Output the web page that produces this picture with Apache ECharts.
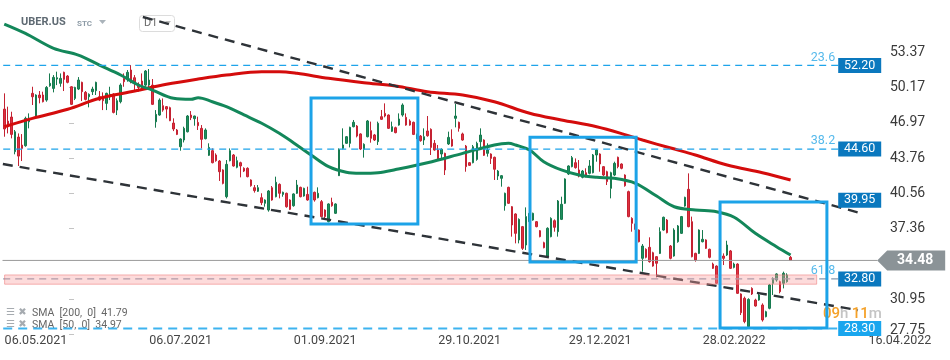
<!DOCTYPE html>
<html>
<head>
<meta charset="utf-8">
<script src="https://cdn.jsdelivr.net/npm/echarts@6.0.0/dist/echarts.min.js"></script>
<style>html,body{margin:0;padding:0;background:#fff;}#chart{width:950px;height:360px;}</style>
</head>
<body>
<div id="chart"></div>
<script>
// ---------- data ----------
const SLOTS = 268; // daily slots on the time axis (candles + empty future space)
// [open, close, low, high]
const ohlc = [
[48.23,46.42,45.72,49.66],[47.14,46.63,46.02,48.45],[47.51,45.93,45.57,47.99],[44.36,46.17,44.12,46.33],
[45.69,43.96,43.06,46.02],[44.96,44.66,43.51,45.96],[44.90,47.39,44.81,47.54],[47.08,47.39,46.48,47.84],
[49.66,49.35,48.60,50.26],[47.54,49.51,47.39,49.57],[49.51,49.26,48.75,49.87],[49.51,48.90,48.84,49.81],
[49.05,50.20,48.90,50.32],[50.35,50.57,50.26,51.47],[50.11,51.11,49.75,51.32],[50.96,51.08,50.41,51.63],
[50.57,51.02,50.26,51.47],[51.57,50.93,49.87,51.63],[51.23,50.66,50.57,51.32],[50.26,48.66,48.60,50.32],
[49.20,50.20,49.05,50.26],[50.05,50.87,49.96,51.14],[50.66,49.81,48.96,50.72],[49.75,49.11,49.02,49.87],
[49.35,49.57,48.39,49.66],[49.81,50.05,49.51,50.26],[49.90,50.66,49.51,50.72],[49.35,49.05,48.96,49.87],
[49.26,48.99,48.14,49.75],[48.75,49.66,48.14,49.72],[49.35,49.57,49.05,50.26],[49.60,47.93,47.84,49.66],
[48.14,48.99,47.69,49.20],[48.90,50.41,48.75,50.57],[51.02,50.72,50.26,51.47],[50.96,51.57,50.72,51.78],
[51.78,50.87,50.57,52.23],[51.08,50.57,49.96,51.32],[50.47,50.20,49.81,50.66],[50.78,50.26,49.96,51.47],
[50.41,51.69,50.26,51.78],[50.41,50.87,50.11,51.87],[50.41,48.66,48.60,50.96],[47.08,47.75,46.54,48.14],
[47.69,49.05,47.63,49.20],[48.54,48.14,47.99,49.20],[48.45,48.23,47.39,48.51],[48.36,47.17,47.14,48.45],
[46.96,46.42,46.23,47.39],[46.33,45.93,45.87,46.42],[44.81,45.51,44.45,45.57],[45.42,46.48,45.20,46.63],
[46.17,47.60,46.11,47.69],[47.69,47.45,47.23,48.05],[47.36,47.60,46.72,47.63],[47.02,46.72,46.33,47.54],
[46.48,45.48,44.66,46.78],[45.54,46.33,45.48,46.48],[44.03,44.75,43.97,45.12],[44.45,43.36,43.30,44.66],
[44.06,43.54,43.45,44.21],[43.51,42.54,41.70,43.60],[42.70,41.48,41.39,42.76],[40.27,43.21,40.12,43.60],
[43.54,44.45,43.48,44.66],[44.06,43.06,43.00,44.15],[42.94,43.54,42.85,43.91],[43.36,43.06,42.03,43.45],
[42.85,42.60,42.51,42.94],[42.85,42.09,42.03,42.94],[41.79,41.27,41.18,41.85],[41.09,40.82,40.64,41.33],
[40.76,41.09,40.70,41.33],[40.18,39.73,39.51,40.58],[39.67,39.97,39.36,40.03],[39.06,40.79,38.91,40.88],
[41.09,39.97,39.91,41.24],[40.27,41.58,40.21,42.09],[41.39,40.58,40.12,41.48],[40.48,40.67,40.27,40.73],
[40.58,39.36,39.27,40.64],[39.97,39.12,39.06,40.03],[39.45,40.52,39.36,40.58],[40.58,41.33,40.52,41.79],
[41.12,40.27,40.21,41.18],[40.33,41.03,40.27,41.09],[40.48,39.97,39.91,41.18],[40.52,40.03,39.97,40.64],
[40.67,39.97,39.82,40.73],[40.18,40.58,40.12,41.12],[39.82,38.46,38.39,39.97],[39.06,38.46,38.21,39.12],
[38.00,39.61,37.94,39.67],[39.76,39.45,39.36,40.18],[38.76,39.61,38.70,39.67],[42.18,44.57,42.15,44.66],
[44.66,44.97,44.57,46.48],[45.12,45.72,45.06,45.78],[45.12,46.57,44.75,46.63],[46.63,47.03,46.57,47.24],
[46.69,45.78,45.66,46.78],[45.97,44.60,44.51,46.03],[44.57,45.03,43.82,45.12],[45.72,47.15,45.66,47.24],
[46.27,45.57,45.18,47.09],[45.88,45.42,45.33,45.97],[45.27,46.94,44.97,47.09],[47.54,47.30,47.24,48.15],
[47.84,47.60,47.48,48.75],[47.69,46.48,46.42,47.75],[46.21,46.63,46.15,47.09],[46.54,46.09,46.03,46.63],
[46.78,47.33,46.72,47.84],[47.69,48.60,47.54,48.75],[47.48,46.78,46.72,47.84],[47.15,46.78,46.72,47.30],
[47.03,45.93,45.87,47.09],[45.60,45.90,45.50,46.00],[45.78,45.36,45.27,45.87],[45.42,45.72,44.97,46.48],
[46.24,45.81,45.72,47.60],[46.39,44.75,44.06,46.48],[45.12,44.51,44.45,45.42],[44.51,43.60,43.54,44.97],
[44.15,44.57,43.75,44.66],[44.21,42.70,42.24,44.27],[45.06,45.66,44.97,46.18],[45.48,44.87,44.81,46.39],
[47.39,47.60,46.57,48.69],[47.03,46.48,46.18,47.09],[45.97,45.42,45.36,46.09],[44.87,43.00,42.54,44.97],
[43.36,43.12,43.06,43.42],[43.36,44.81,43.30,44.97],[43.66,45.12,43.54,45.27],[45.27,45.87,44.75,46.48],
[45.42,44.03,43.97,45.48],[44.21,44.51,43.91,45.12],[44.15,43.75,43.24,44.21],[43.85,42.76,41.79,43.91],
[42.15,42.60,41.79,42.70],[41.94,42.18,41.18,42.24],[39.45,40.58,39.00,40.64],[41.12,39.67,39.61,41.18],
[39.36,37.70,36.64,39.42],[38.70,36.94,36.03,38.76],[36.34,38.21,36.03,38.30],[37.55,35.58,35.43,37.61],
[35.88,38.46,35.43,39.30],[38.00,38.76,37.91,39.30],[38.15,38.76,38.09,38.82],[38.00,37.55,37.49,38.06],
[37.18,36.64,36.58,37.24],[36.09,35.64,35.58,36.18],[34.88,37.40,34.82,37.49],[36.64,38.30,36.58,38.40],
[38.09,37.49,37.09,38.21],[37.09,39.88,36.64,39.97],[38.21,39.58,38.15,40.27],[39.67,41.88,39.61,41.94],
[42.33,43.06,42.24,43.12],[43.00,43.82,42.94,43.97],[43.36,42.91,42.82,43.75],[42.70,42.15,42.03,43.60],
[42.03,42.60,41.94,42.70],[42.45,42.09,42.03,42.85],[42.39,43.06,42.30,43.60],[42.45,44.06,42.39,44.15],
[44.06,44.51,43.45,44.57],[44.15,43.24,42.54,44.21],[43.00,42.24,42.15,43.06],[42.54,41.64,41.33,42.63],
[41.03,42.45,40.12,42.54],[42.24,43.30,42.15,43.45],[43.85,43.00,42.85,43.91],[43.24,42.85,42.76,43.30],
[42.24,41.27,41.18,42.30],[40.73,38.46,38.40,40.82],[38.30,37.85,37.09,38.40],[37.80,37.30,37.20,37.95],
[37.24,36.18,36.12,37.30],[34.67,35.79,33.46,35.97],[35.49,34.76,34.67,35.58],[35.67,34.37,34.28,36.58],
[35.18,33.97,33.91,35.27],[34.82,34.22,32.94,34.88],[35.12,37.09,35.06,37.49],[37.24,38.40,37.18,38.46],
[38.15,37.00,36.94,38.24],[35.79,34.67,34.58,35.88],[34.88,37.24,34.82,37.40],[36.18,37.61,36.09,37.70],
[36.94,38.46,36.88,38.52],[39.42,40.21,39.36,40.27],[40.94,37.55,37.49,42.39],[38.00,34.82,34.76,38.46],
[35.12,34.52,34.37,35.18],[35.12,37.24,35.06,37.30],[36.18,36.40,36.12,37.24],[36.34,35.58,35.52,36.40],
[35.49,34.76,34.67,35.55],[34.15,33.76,33.70,34.28],[33.97,32.40,32.34,34.03],[32.50,34.20,32.30,34.40],
[34.88,34.67,34.06,35.12],[34.97,35.88,34.88,36.27],[35.34,33.76,33.70,35.43],[33.85,34.15,33.76,34.28],
[34.15,31.49,31.43,34.22],[31.43,29.73,29.52,31.49],[31.04,28.92,28.77,31.19],[28.46,30.94,28.40,31.04],
[31.94,31.43,31.34,32.04],[30.88,30.34,30.28,31.00],[30.88,31.34,30.82,31.43],[30.43,29.07,28.92,30.58],
[29.37,29.82,29.31,29.91],[30.13,32.25,30.04,32.34],[32.40,32.85,31.34,32.94],[32.70,33.25,32.55,33.31],
[32.55,31.64,31.49,32.64],[32.40,33.31,31.94,33.46],[32.55,33.16,32.46,33.31],[34.76,34.48,34.46,34.88]
];
// moving averages: [slot index, value]
const sma200 = [[0,46.63],[8,47.39],[18,48.21],[27,49.21],[37,49.87],[46,50.48],[55,50.96],[63,51.33],[73,51.63],
[78,51.63],[83,51.48],[92,51.03],[102,50.63],[111,50.33],[120,49.81],[130,49.51],[139,48.90],[149,47.85],
[158,47.24],[168,46.63],[177,45.82],[181,45.42],[189,44.69],[196,44.06],[205,43.15],[215,42.45],[223,41.79]];
const sma50 = [[0,55.96],[6,55.11],[14,53.75],[21,53.14],[27,52.23],[33,51.33],[38,50.42],[42,49.96],[48,49.21],
[53,49.12],[55,49.26],[59,48.90],[63,48.45],[68,47.70],[73,46.94],[78,46.03],[82,45.18],[87,44.06],[92,43.00],
[97,42.49],[101,42.40],[106,42.45],[111,42.74],[120,43.36],[130,44.21],[139,44.97],[143,45.12],[145,44.97],
[149,44.51],[153,43.45],[158,42.70],[163,42.24],[168,42.03],[173,41.94],[179,41.49],[185,40.33],[190,39.36],
[196,39.06],[202,38.91],[207,38.40],[213,36.94],[219,35.73],[223,34.97]];
const dateLabels = [[9,'06.05.2021'],[50,'06.07.2021'],[91,'01.09.2021'],[132,'29.10.2021'],[169,'29.12.2021'],[207,'28.02.2022'],[254,'16.04.2022']];
const yTicks = [27.75,30.95,37.36,40.56,43.76,46.97,50.17,53.37];
const yMin = 27.75, yMax = 57.96;
const lastPrice = 34.48;
const sma200Last = 41.79, sma50Last = 34.97;
const levelValues = [52.20, 44.60, 39.95, 32.80, 28.30];
const fibTexts = ['23.6', '38.2', '', '61.8', ''];
const levelEnd = 236.5;        // slot where level lines stop (price tags begin)
const tagSlot = 242.6;         // slot at the centre of the price tags
const lastTagSlot = 257.2;     // slot at the centre of the last-price tag
const lastLineEnd = 247.6;
const trendLines = [[[39.3,56.6],[242.7,38.79]], [[-0.4,43.24],[242.1,29.97]]];
const boxes = [[87.0,49.24,117.3,37.79],[149.1,45.67,179.2,34.34],[203.0,39.79,233.3,28.34]];
const zone = [[0.1,33.16,230.4,32.32]];

// ---------- chart ----------
const FONT = 'Roboto';
const labelMap = Object.fromEntries(dateLabels);
const categories = Array.from({length: SLOTS}, (_, i) => String(i));
const GREEN = '#1f8f5e', GREEN_B = '#177a4f', RED = '#e0303f', RED_B = '#c42232';

const rectRender = (stroke, fill, lw) => (params, api) => {
  const p1 = api.coord([api.value(0), api.value(1)]);
  const p2 = api.coord([api.value(2), api.value(3)]);
  return {type: 'rect',
    shape: {x: Math.min(p1[0], p2[0]), y: Math.min(p1[1], p2[1]), width: Math.abs(p2[0]-p1[0]), height: Math.abs(p2[1]-p1[1])},
    style: {fill: fill, stroke: stroke, lineWidth: lw}};
};

const levelStyles = [
  {color: '#1ea4ea', type: [7,5], width: 1.2},
  {color: '#1ea4ea', type: [7,5], width: 1.2},
  null,
  {color: '#8497ad', type: [7,5], width: 1.2},
  {color: '#3db3ef', type: [9,6], width: 2}
];
const tagColors = ['#0a78be', '#0a78be', '#0a78be', '#0a78be', '#19a6ee'];

const series = [
  {type: 'candlestick', xAxisIndex: 0, yAxisIndex: 0, data: ohlc, barWidth: 2, z: 2,
   itemStyle: {color: GREEN, color0: RED, borderColor: GREEN_B, borderColor0: RED_B, borderWidth: 1}},
  {type: 'line', xAxisIndex: 1, data: sma200, smooth: 0.35, showSymbol: false, z: 3,
   lineStyle: {color: '#d40c0c', width: 3}},
  {type: 'line', xAxisIndex: 1, data: sma50, smooth: 0.35, showSymbol: false, z: 3,
   lineStyle: {color: '#13875a', width: 3}}
];
trendLines.forEach(tl => series.push({type: 'line', xAxisIndex: 1, data: tl, showSymbol: false, z: 4,
  lineStyle: {color: '#2e3338', width: 2.4, type: [10,7]}}));
levelValues.forEach((v, i) => {
  const st = levelStyles[i];
  if (!st) return;
  series.push({type: 'line', xAxisIndex: 1, data: [[-0.3, v], [levelEnd, v]], showSymbol: false, z: 3,
    lineStyle: st});
});
series.push({type: 'line', xAxisIndex: 1, data: [[-0.5, lastPrice], [lastLineEnd, lastPrice]], showSymbol: false, z: 3,
  lineStyle: {color: '#9a9a9a', width: 1}});
series.push({type: 'custom', xAxisIndex: 1, z: 5, data: zone,
  renderItem: rectRender('rgba(236,120,120,0.55)', 'rgba(250,160,160,0.38)', 1)});
series.push({type: 'custom', xAxisIndex: 1, z: 6, data: boxes,
  renderItem: rectRender('#1ca3e8', 'transparent', 3)});
series.push({type: 'scatter', xAxisIndex: 1, z: 7, symbolSize: 0, silent: true,
  data: levelValues.map((v, i) => ({value: [levelEnd, v], fib: fibTexts[i]})).filter(d => d.fib),
  label: {show: true, position: 'left', distance: 3, offset: [0, -8], formatter: p => p.data.fib,
    color: '#2aa8e6', fontSize: 12.5, fontFamily: FONT}});
series.push({type: 'scatter', xAxisIndex: 1, z: 8, symbol: 'rect', symbolSize: [43, 15], silent: true,
  itemStyle: {opacity: 1},
  data: levelValues.map((v, i) => ({value: [tagSlot, v], itemStyle: {color: tagColors[i], opacity: 1}})),
  label: {show: true, position: 'inside', formatter: p => p.value[1].toFixed(2),
    color: '#fff', fontSize: 12.5, fontFamily: FONT}});
series.push({type: 'scatter', xAxisIndex: 1, z: 8, symbol: 'path://M0,10L10,0L68,0L68,20L10,20Z', symbolSize: [68, 20], silent: true,
  itemStyle: {opacity: 1},
  data: [{value: [lastTagSlot, lastPrice], itemStyle: {color: '#8b9397', opacity: 1}}],
  label: {show: true, position: 'inside', offset: [4, 0], formatter: p => p.value[1].toFixed(2),
    color: '#fff', fontSize: 14, fontWeight: 'bold', fontFamily: FONT}});

const option = {
  backgroundColor: '#ffffff',
  animation: false,
  grid: {left: 2.5, right: 2.5, top: 2, bottom: 25.5, containLabel: false, outerBoundsMode: 'none'},
  xAxis: [
    {type: 'category', data: categories, boundaryGap: true,
     axisLine: {show: false}, axisTick: {show: false}, splitLine: {show: false},
     axisLabel: {interval: 0, margin: 0, formatter: v => labelMap[+v] || '', color: '#454545', fontSize: 12.5, fontFamily: FONT}},
    {type: 'value', min: -0.5, max: SLOTS - 0.5, show: false}
  ],
  yAxis: [{
    type: 'value', position: 'right', offset: -66.5, min: yMin, max: yMax, scale: true,
    splitLine: {show: false}, axisLine: {show: false},
    axisTick: {show: true, length: 5, lineStyle: {color: '#c4c4c4'}, customValues: yTicks},
    axisLabel: {margin: 9, color: '#3a3a3a', fontSize: 14, fontFamily: FONT, customValues: yTicks,
      formatter: v => Math.abs(v - yTicks[0]) < 1e-6 ? '{lo|' + v.toFixed(2) + '}' : v.toFixed(2),
      rich: {lo: {fontSize: 14, fontFamily: FONT, color: '#3a3a3a', padding: [0, 0, 8, 0]}}}
  }],
  series: series,
  graphic: [
    {type: 'text', left: 21, top: 17, style: {text: 'UBER.US', font: 'bold 11px Roboto', fill: '#5f6a73'}},
    {type: 'text', left: 77, top: 19.5, style: {text: 'STC', font: 'bold 8px Roboto', fill: '#8d9ba6'}},
    {type: 'polygon', shape: {points: [[99, 20], [106, 20], [102.5, 24]]}, style: {fill: '#aab3ba'}},
    {type: 'rect', shape: {x: 139.5, y: 15.5, width: 35, height: 16, r: 3}, style: {fill: '#fff', stroke: '#dcdcdc', lineWidth: 1}},
    {type: 'text', left: 144, top: 17.5, style: {text: 'D1', font: '11px Roboto', fill: '#6a6a6a'}},
    {type: 'polygon', shape: {points: [[165, 21], [171, 21], [168, 24.5]]}, style: {fill: '#bbbbbb'}},
    {type: 'text', left: 6, top: 307, style: {text: '☰ ✖', font: '10px DejaVu Sans', fill: '#a6abb0'}},
    {type: 'text', left: 32, top: 307.5, style: {text: 'SMA  [200,  0]  ' + sma200Last.toFixed(2), font: '10.5px Roboto', fill: '#666'}},
    {type: 'text', left: 6, top: 319, style: {text: '☰ ✖', font: '10px DejaVu Sans', fill: '#a6abb0'}},
    {type: 'text', left: 32, top: 319.5, style: {text: 'SMA  [50,  0]  ' + sma50Last.toFixed(2), font: '10.5px Roboto', fill: '#666'}},
    {type: 'text', left: 823, top: 307, style: {
      text: '{o|09}{g|h} {o|11}{g|m}',
      rich: {o: {fill: '#f5a128', font: '500 15px Roboto'}, g: {fill: '#c4c4c4', font: '500 15px Roboto'}}}}
  ]
};
const chart = echarts.init(document.getElementById('chart'));
chart.setOption(option);
</script>
</body>
</html>
